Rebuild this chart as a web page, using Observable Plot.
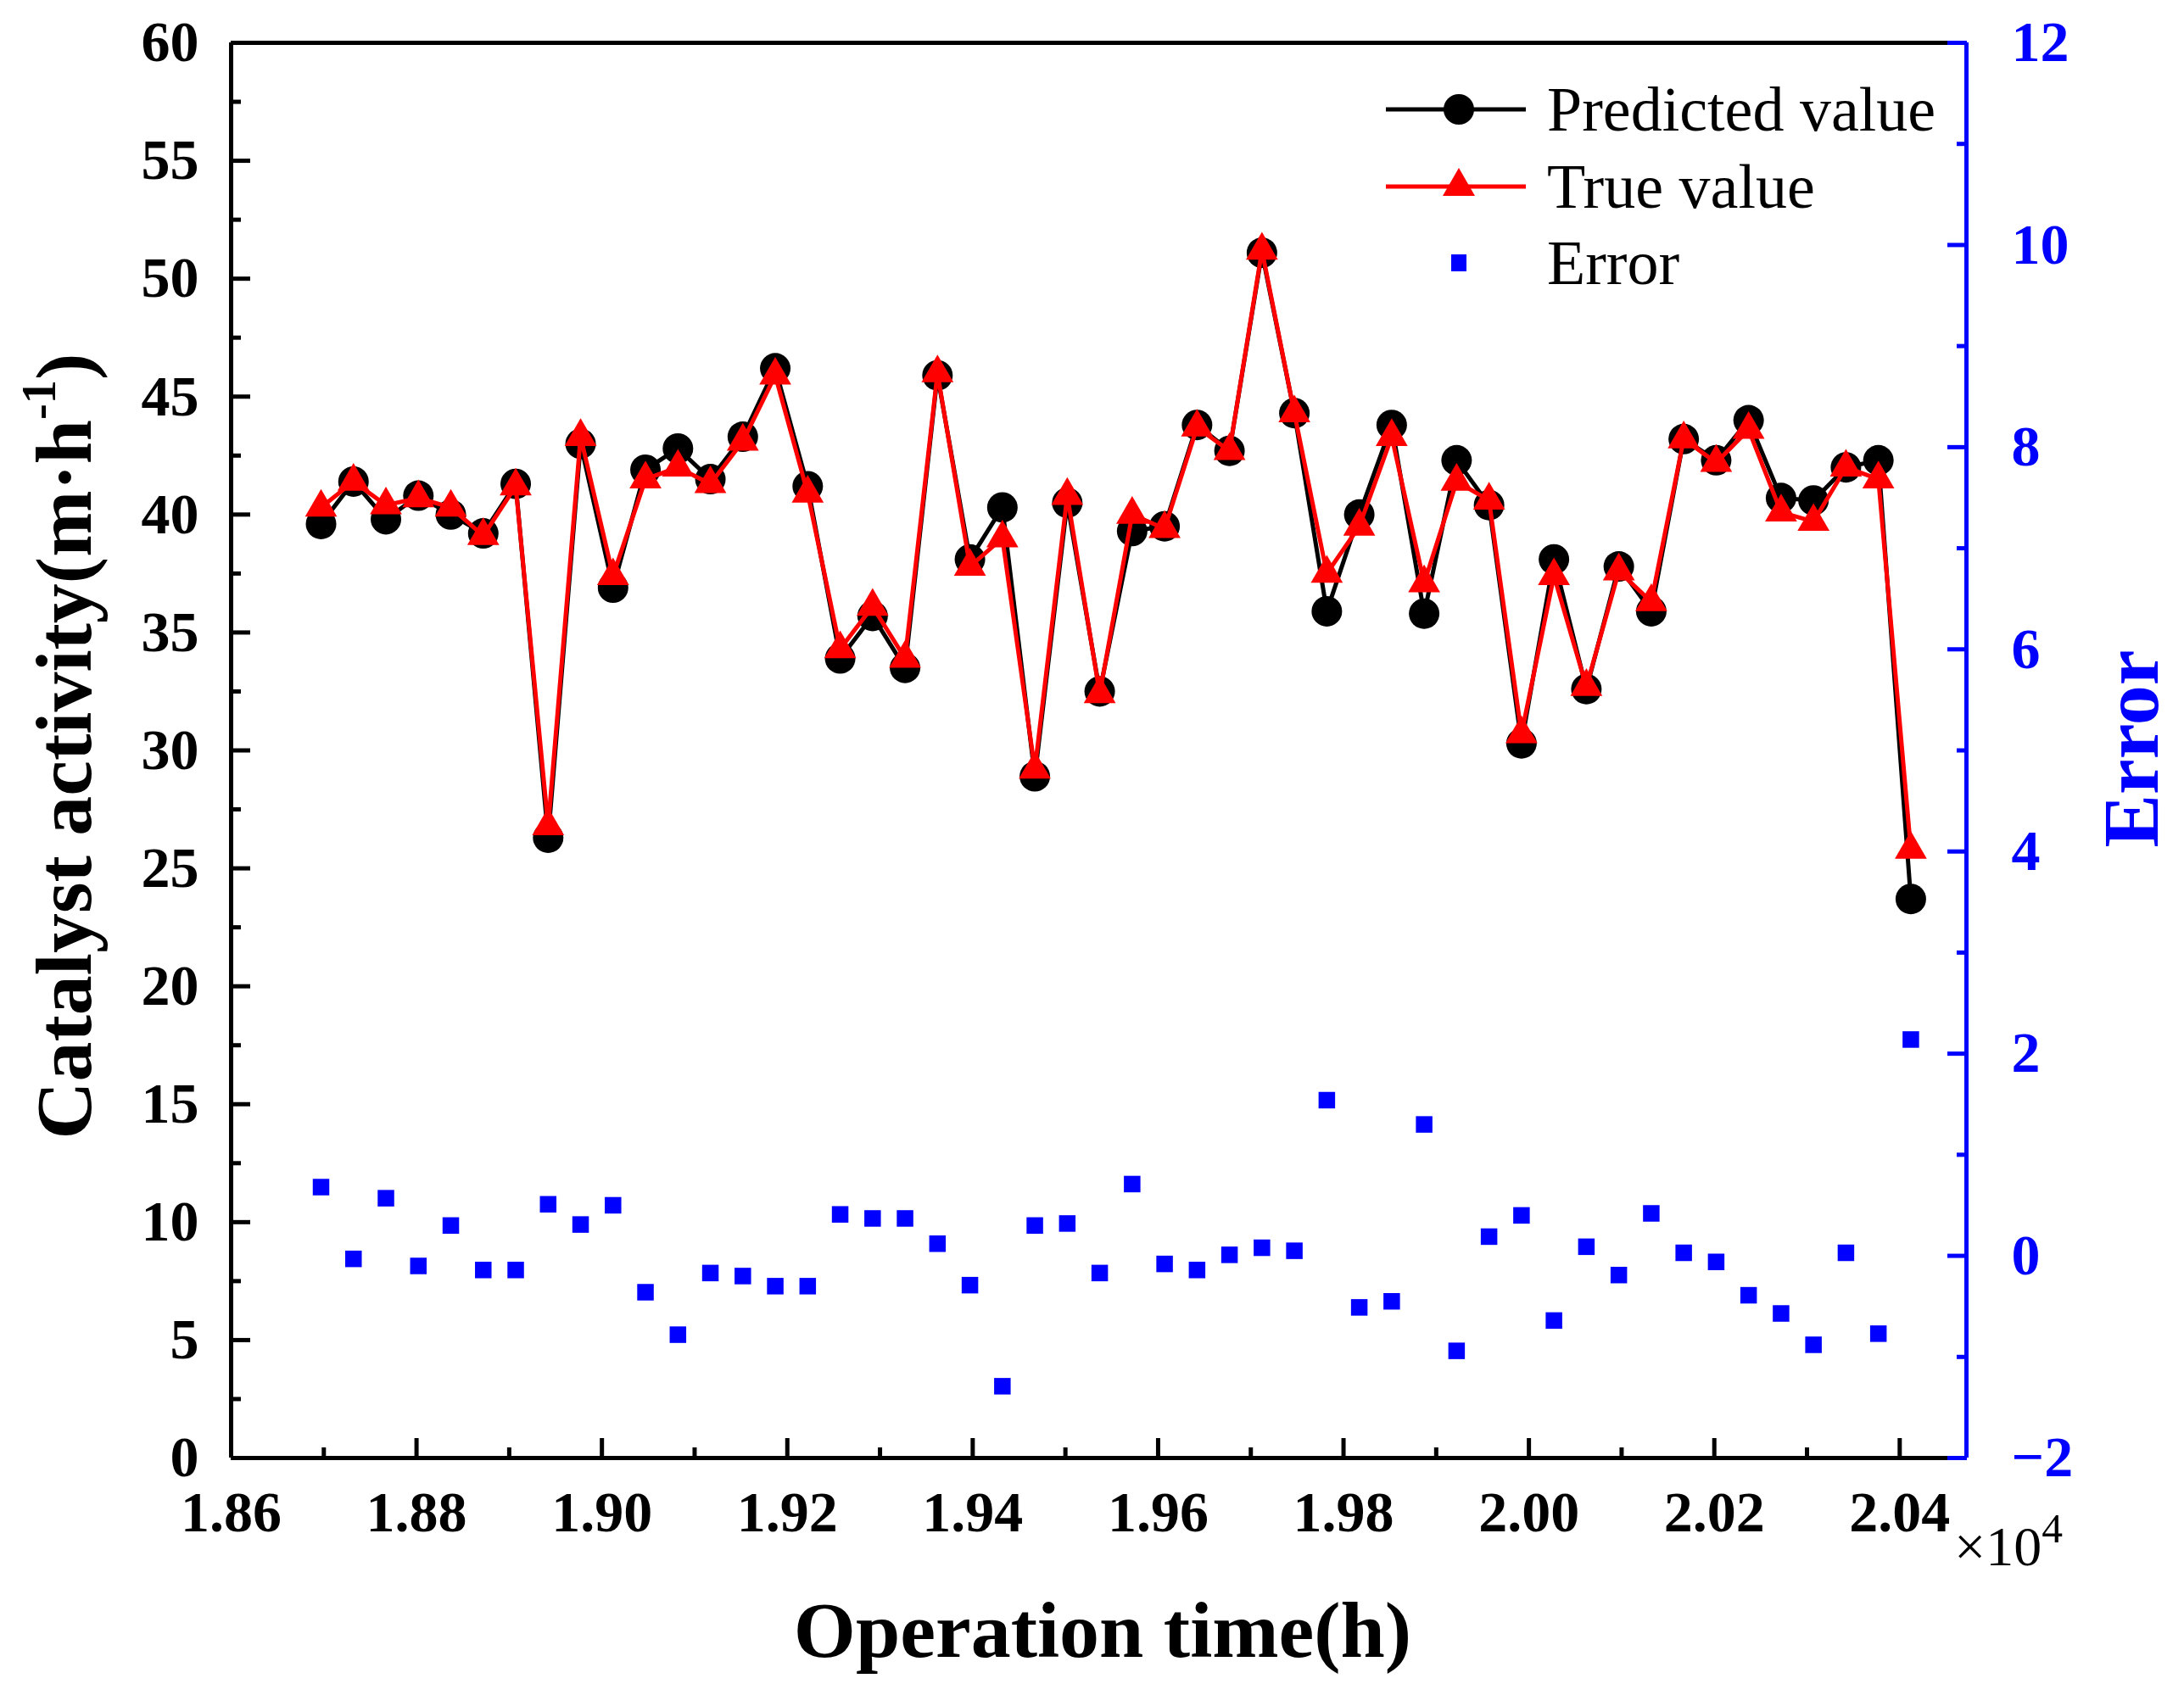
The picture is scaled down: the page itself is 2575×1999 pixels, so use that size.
<!DOCTYPE html>
<html>
<head>
<meta charset="utf-8">
<script src="https://cdn.jsdelivr.net/npm/d3@7"></script>
<script src="https://cdn.jsdelivr.net/npm/@observablehq/plot@0.6"></script>
<style>
  body { margin: 0; background: white; }
  #wrap { position: relative; width: 2575px; height: 1999px; font-family: "Liberation Serif", "Times New Roman", serif; }
  #wrap svg { position: absolute; left: 0; top: 0; max-width: none; }
  #wrap svg text { font-family: "Liberation Serif", "Times New Roman", serif !important; font-weight: bold; }
  .lbl { position: absolute; white-space: nowrap; line-height: 1; }
  .ttl { font-weight: bold; font-size: 94px; }
  .leg { font-size: 74px; }
</style>
</head>
<body>
<div id="wrap"></div>
<script>
// ----------------- data -----------------
const times = [18697, 18732, 18767, 18802, 18837, 18872, 18907, 18942, 18977, 19012,
  19047, 19082, 19117, 19152, 19187, 19222, 19257, 19292, 19327, 19362,
  19397, 19432, 19467, 19502, 19537, 19572, 19607, 19642, 19677, 19712,
  19747, 19782, 19817, 19852, 19887, 19922, 19957, 19992, 20027, 20062,
  20097, 20132, 20167, 20202, 20237, 20272, 20307, 20342, 20377, 20412];
const predicted = [39.6, 41.4, 39.8, 40.8, 40.0, 39.2, 41.3, 26.3, 43.0, 36.9,
  41.9, 42.8, 41.5, 43.3, 46.2, 41.2, 33.9, 35.7, 33.5, 45.9,
  38.1, 40.3, 28.9, 40.5, 32.5, 39.3, 39.5, 43.8, 42.7, 51.1,
  44.3, 35.9, 40.0, 43.8, 35.8, 42.3, 40.4, 30.3, 38.1, 32.6,
  37.8, 35.9, 43.2, 42.3, 44.0, 40.7, 40.6, 42.0, 42.3, 23.7];
const trueVal = [40.3, 41.4, 40.4, 40.7, 40.3, 39.1, 41.2, 26.8, 43.3, 37.4,
  41.5, 42.0, 41.3, 43.1, 45.9, 40.9, 34.3, 36.1, 33.9, 46.0,
  37.8, 39.0, 29.2, 40.8, 32.4, 40.0, 39.4, 43.7, 42.7, 51.2,
  44.3, 37.5, 39.5, 43.3, 37.1, 41.4, 40.6, 30.7, 37.4, 32.7,
  37.6, 36.3, 43.2, 42.2, 43.6, 40.1, 39.7, 42.0, 41.5, 25.8];
const errors = [0.68, -0.03, 0.57, -0.10, 0.30, -0.14, -0.14, 0.51, 0.31, 0.50,
  -0.36, -0.78, -0.17, -0.20, -0.30, -0.30, 0.41, 0.37, 0.37, 0.12,
  -0.29, -1.29, 0.30, 0.32, -0.17, 0.71, -0.08, -0.14, 0.01, 0.08,
  0.05, 1.54, -0.51, -0.45, 1.30, -0.94, 0.19, 0.40, -0.64, 0.09,
  -0.19, 0.42, 0.03, -0.06, -0.39, -0.57, -0.88, 0.03, -0.77, 2.14];

const xMajor = [18600, 18800, 19000, 19200, 19400, 19600, 19800, 20000, 20200, 20400];
const xMinor = [18700, 18900, 19100, 19300, 19500, 19700, 19900, 20100, 20300];
const yMajor = [0, 5, 10, 15, 20, 25, 30, 35, 40, 45, 50, 55, 60];
const yMinor = [2.5, 7.5, 12.5, 17.5, 22.5, 27.5, 32.5, 37.5, 42.5, 47.5, 52.5, 57.5];
const rMajor = [-2, 0, 2, 4, 6, 8, 10, 12];
const rMinor = [-1, 1, 3, 5, 7, 9, 11];

const X_DOMAIN = [18600, 20472];

// --------------- layout -----------------
const W = 2575, H = 1999;
const M = { marginLeft: 272, marginRight: 257, marginTop: 50, marginBottom: 280 };
const rows = times.map((t, i) => ({ t, pred: predicted[i], truth: trueVal[i], err: errors[i] }));
const baseStyle = { fontFamily: "Liberation Serif, serif", fontSize: "68px", fontWeight: "bold", overflow: "visible" };

const main = Plot.plot({
  width: W, height: H, ...M,
  x: { domain: X_DOMAIN, label: null },
  y: { domain: [0, 60], label: null },
  style: { ...baseStyle, background: "white", color: "black" },
  marks: [
    Plot.axisX({ ticks: xMajor, anchor: "bottom", tickSize: -23, tickPadding: 61, strokeWidth: 5, tickFormat: d => (d / 1e4).toFixed(2) }),
    Plot.axisX({ ticks: xMinor, anchor: "bottom", tickSize: -12, strokeWidth: 5, tickFormat: () => "" }),
    Plot.axisY({ ticks: yMajor, anchor: "left", tickSize: -23, tickPadding: 61, strokeWidth: 5 }),
    Plot.axisY({ ticks: yMinor, anchor: "left", tickSize: -12, strokeWidth: 5, tickFormat: () => "" }),
    Plot.ruleX([X_DOMAIN[0]], { stroke: "black", strokeWidth: 5 }),
    Plot.ruleY([0], { stroke: "black", strokeWidth: 5 }),
    Plot.ruleY([60], { stroke: "black", strokeWidth: 5 }),
    Plot.line(rows, { x: "t", y: "pred", stroke: "black", strokeWidth: 5 }),
    Plot.dot(rows, { x: "t", y: "pred", r: 18, fill: "black" }),
    Plot.line(rows, { x: "t", y: "truth", stroke: "red", strokeWidth: 5 }),
    Plot.dot(rows, { x: "t", y: "truth", symbol: "triangle", r: 14, fill: "red" })
  ]
});

const right = Plot.plot({
  width: W, height: H, ...M,
  x: { domain: X_DOMAIN, label: null, axis: null },
  y: { domain: [-2, 12], label: null },
  style: { ...baseStyle, background: "transparent", color: "blue" },
  marks: [
    Plot.axisY({ ticks: rMajor, anchor: "right", tickSize: -23, tickPadding: 76, strokeWidth: 5 }),
    Plot.axisY({ ticks: rMinor, anchor: "right", tickSize: -12, strokeWidth: 5, tickFormat: () => "" }),
    Plot.ruleX([X_DOMAIN[1]], { stroke: "blue", strokeWidth: 5 }),
    Plot.dot(rows, { x: "t", y: "err", symbol: "square", r: 11, fill: "blue" })
  ]
});

const wrap = document.getElementById("wrap");
wrap.appendChild(main);
wrap.appendChild(right);

// --------------- titles & legend -----------------
function label(html, cls, css){
  const d = document.createElement("div");
  d.className = "lbl " + cls;
  d.innerHTML = html;
  d.style.cssText += css;
  wrap.appendChild(d);
}
label("Catalyst activity(m·h<sup style='font-size:0.6em;vertical-align:0.75em'>-1</sup>)", "ttl",
  "left:70px;top:880px;transform:translate(-50%,-50%) rotate(-90deg);");
label("Operation time(h)", "ttl", "left:1300px;top:1922px;transform:translate(-50%,-50%);");
label("Error", "ttl", "left:2512px;top:883px;transform:translate(-50%,-50%) rotate(-90deg);color:blue;");
label("×10<sup style='font-size:0.75em;vertical-align:0.55em'>4</sup>", "", "left:2304px;top:1778px;font-size:66px;");

const leg = [
  { name: "Predicted value", y: 129 },
  { name: "True value", y: 220 },
  { name: "Error", y: 310 }
];
const ls = d3.create("svg").attr("width", 200).attr("height", 260)
  .style("left", "1622px").style("top", "90px");
ls.append("line").attr("x1", 12).attr("x2", 177).attr("y1", 39).attr("y2", 39).attr("stroke", "black").attr("stroke-width", 5);
ls.append("circle").attr("cx", 98).attr("cy", 39).attr("r", 18).attr("fill", "black");
ls.append("line").attr("x1", 12).attr("x2", 177).attr("y1", 130).attr("y2", 130).attr("stroke", "red").attr("stroke-width", 5);
ls.append("path").attr("d", "M98,108L117,141L79,141Z").attr("fill", "red");
ls.append("rect").attr("x", 89).attr("y", 210).attr("width", 18).attr("height", 20).attr("fill", "blue");
wrap.appendChild(ls.node());
leg.forEach(l => label(l.name, "leg", `left:1824px;top:${l.y}px;transform:translateY(-50%);`));
</script>
</body>
</html>
